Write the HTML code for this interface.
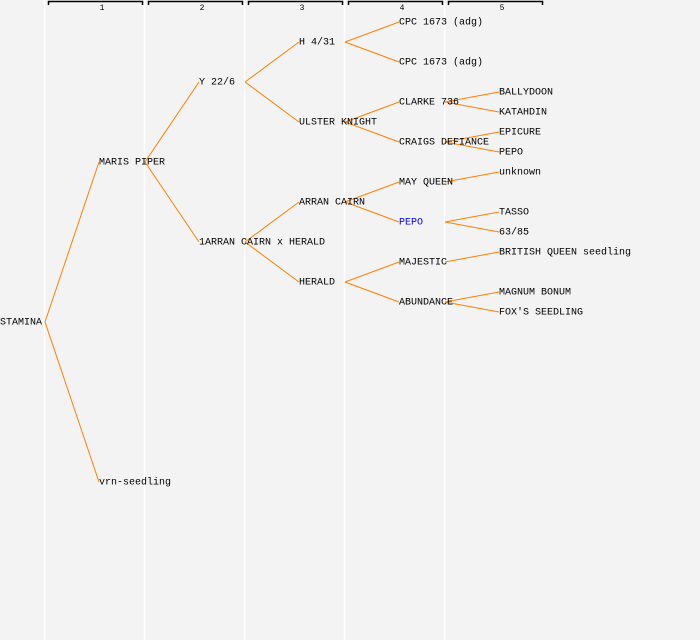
<!DOCTYPE html>
<html><head><style>
html,body{margin:0;padding:0;background:#f3f3f3;}
svg{display:block;}
text{font-family:"Liberation Mono",monospace;font-size:10px;fill:#000;}
</style></head><body>
<svg width="700" height="640" xmlns="http://www.w3.org/2000/svg">
<rect width="700" height="640" fill="#f3f3f3"/>
<g stroke="#fff" stroke-width="1.5">
<line x1="44.5" y1="0" x2="44.5" y2="640"/><line x1="144.5" y1="0" x2="144.5" y2="640"/>
<line x1="244.5" y1="0" x2="244.5" y2="640"/><line x1="344.5" y1="0" x2="344.5" y2="640"/>
<line x1="444.5" y1="0" x2="444.5" y2="640"/>
</g>
<g stroke="#000" fill="none" stroke-width="1.5">
<path d="M48.5 5V1.5H142.5V5"/><path d="M148.5 5V1.5H242.5V5"/><path d="M248.5 5V1.5H342.5V5"/>
<path d="M348.5 5V1.5H442.5V5"/><path d="M448.5 5V1.5H542.5V5"/>
</g>
<g text-anchor="middle">
<text x="102" y="10" style="font-size:8px">1</text><text x="202" y="10" style="font-size:8px">2</text>
<text x="302" y="10" style="font-size:8px">3</text><text x="402" y="10" style="font-size:8px">4</text>
<text x="502" y="10" style="font-size:8px">5</text>
</g>
<g stroke="#ff8000" stroke-width="1" fill="none">
<path d="M45 322L99 162M45 322L99 482"/>
<path d="M145 162L199 82M145 162L199 242"/>
<path d="M245 82L299 42M245 82L299 122M245 242L299 202M245 242L299 282"/>
<path d="M345 42L399 22M345 42L399 62M345 122L399 102M345 122L399 142M345 202L399 182M345 202L399 222M345 282L399 262M345 282L399 302"/>
<path d="M445 102L499 92M445 102L499 112M445 142L499 132M445 142L499 152M445 182L499 172M445 222L499 212M445 222L499 232M445 262L499 252M445 302L499 292M445 302L499 312"/>
</g>
<g dominant-baseline="central" transform="translate(0,1)">
<text x="0" y="322">STAMINA</text>
<text x="99" y="162">MARIS PIPER</text>
<text x="99" y="482">vrn-seedling</text>
<text x="199" y="82">Y 22/6</text>
<text x="199" y="242">1ARRAN CAIRN x HERALD</text>
<text x="299" y="42">H 4/31</text>
<text x="299" y="122">ULSTER KNIGHT</text>
<text x="299" y="202">ARRAN CAIRN</text>
<text x="299" y="282">HERALD</text>
<text x="399" y="22">CPC 1673 (adg)</text>
<text x="399" y="62">CPC 1673 (adg)</text>
<text x="399" y="102">CLARKE 736</text>
<text x="399" y="142">CRAIGS DEFIANCE</text>
<text x="399" y="182">MAY QUEEN</text>
<text x="399" y="222" style="fill:#0000ff">PEPO</text>
<text x="399" y="262">MAJESTIC</text>
<text x="399" y="302">ABUNDANCE</text>
<text x="499" y="92">BALLYDOON</text>
<text x="499" y="112">KATAHDIN</text>
<text x="499" y="132">EPICURE</text>
<text x="499" y="152">PEPO</text>
<text x="499" y="172">unknown</text>
<text x="499" y="212">TASSO</text>
<text x="499" y="232">63/85</text>
<text x="499" y="252">BRITISH QUEEN seedling</text>
<text x="499" y="292">MAGNUM BONUM</text>
<text x="499" y="312">FOX'S SEEDLING</text>
</g>
</svg>
</body></html>
